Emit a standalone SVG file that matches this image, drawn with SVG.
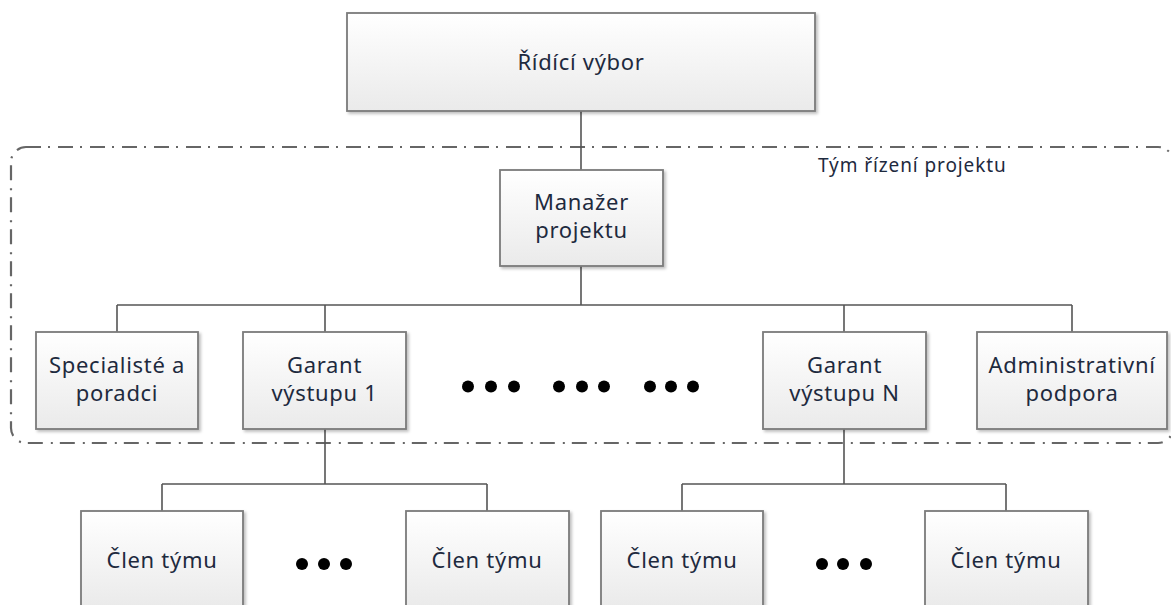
<svg xmlns="http://www.w3.org/2000/svg" width="1171" height="605" viewBox="0 0 1171 605">
<defs>
<linearGradient id="boxg" x1="0" y1="0" x2="0" y2="1">
<stop offset="0" stop-color="#ffffff"/>
<stop offset="1" stop-color="#eaeaea"/>
</linearGradient>
<filter id="sh" x="-10%" y="-10%" width="130%" height="130%">
<feDropShadow dx="2" dy="2" stdDeviation="1.5" flood-color="#000" flood-opacity="0.25"/>
</filter>
</defs>
<style>
.box{fill:url(#boxg);stroke:#7a7a7a;stroke-width:1.8;filter:url(#sh)}
.t{font-family:"Noto Sans","Open Sans",sans-serif;font-size:22px;fill:#1e2a3e;text-anchor:middle;letter-spacing:0.7px}
.lbl{font-family:"Noto Sans","Open Sans",sans-serif;font-size:19px;fill:#1e2a3e;letter-spacing:0.9px}
.c{stroke:#555;stroke-width:1.6;fill:none}
.grp{fill:none;stroke:#666;stroke-width:2.2;stroke-dasharray:15 7 2 8}
.dot{fill:#000}
</style>
<rect width="1171" height="605" fill="#fff"/>
<g id="team-group">
<rect class="grp" x="11" y="147" width="1162" height="296" rx="15" ry="15"/>
<text class="lbl" x="818" y="172">Tým řízení projektu</text>
</g>
<g id="connectors">
<path class="c" d="M581 111V170M581 266V305M117 305H1072M117 305V332M325 305V332M844 305V332M1072 305V332"/>
<path class="c" d="M325 429V484M162 484H487M162 484V511M487 484V511"/>
<path class="c" d="M844 429V484M682 484H1006M682 484V511M1006 484V511"/>
</g>
<g id="ridici-vybor">
<rect class="box" x="347" y="13" width="468" height="98"/>
<text class="t" x="581" y="70">Řídící výbor</text>
</g>
<g id="manazer-projektu">
<rect class="box" x="500" y="170" width="163" height="96"/>
<text class="t" x="581.5" y="210">Manažer</text>
<text class="t" x="581.5" y="238">projektu</text>
</g>
<g id="specialiste">
<rect class="box" x="36" y="332" width="162" height="97"/>
<text class="t" x="117" y="373">Specialisté a</text>
<text class="t" x="117" y="401">poradci</text>
</g>
<g id="garant-1">
<rect class="box" x="243" y="332" width="163" height="97"/>
<text class="t" x="324.5" y="373">Garant</text>
<text class="t" x="324.5" y="401">výstupu 1</text>
</g>
<g id="dots-middle">
<circle class="dot" cx="468" cy="386.5" r="6"/>
<circle class="dot" cx="491" cy="386.5" r="6"/>
<circle class="dot" cx="514" cy="386.5" r="6"/>
<circle class="dot" cx="559" cy="386.5" r="6"/>
<circle class="dot" cx="582" cy="386.5" r="6"/>
<circle class="dot" cx="604" cy="386.5" r="6"/>
<circle class="dot" cx="650" cy="386.5" r="6"/>
<circle class="dot" cx="671" cy="386.5" r="6"/>
<circle class="dot" cx="693" cy="386.5" r="6"/>
</g>
<g id="garant-n">
<rect class="box" x="763" y="332" width="163" height="97"/>
<text class="t" x="844.5" y="373">Garant</text>
<text class="t" x="844.5" y="401">výstupu N</text>
</g>
<g id="administrativni-podpora">
<rect class="box" x="977" y="332" width="190" height="97"/>
<text class="t" x="1072" y="373">Administrativní</text>
<text class="t" x="1072" y="401">podpora</text>
</g>
<g id="clen-1">
<rect class="box" x="81" y="511" width="162" height="97"/>
<text class="t" x="162" y="568">Člen týmu</text>
</g>
<g id="dots-left">
<circle class="dot" cx="302" cy="564" r="6"/>
<circle class="dot" cx="324" cy="564" r="6"/>
<circle class="dot" cx="346" cy="564" r="6"/>
</g>
<g id="clen-2">
<rect class="box" x="406" y="511" width="163" height="97"/>
<text class="t" x="487" y="568">Člen týmu</text>
</g>
<g id="clen-3">
<rect class="box" x="601" y="511" width="162" height="97"/>
<text class="t" x="682" y="568">Člen týmu</text>
</g>
<g id="dots-right">
<circle class="dot" cx="822" cy="564" r="6"/>
<circle class="dot" cx="843" cy="564" r="6"/>
<circle class="dot" cx="866" cy="564" r="6"/>
</g>
<g id="clen-4">
<rect class="box" x="925" y="511" width="163" height="97"/>
<text class="t" x="1006" y="568">Člen týmu</text>
</g>
</svg>
